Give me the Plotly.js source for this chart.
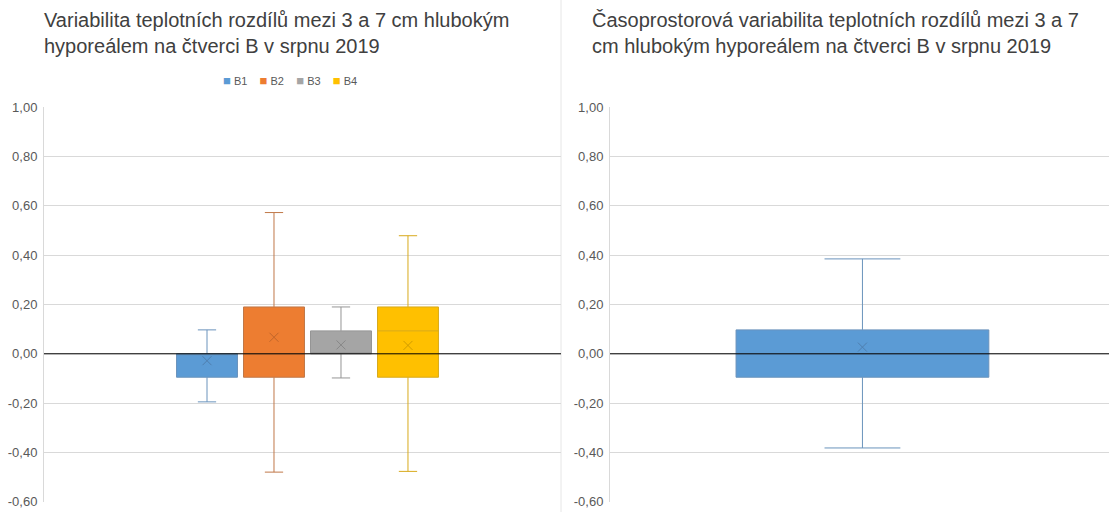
<!DOCTYPE html>
<html>
<head>
<meta charset="utf-8">
<script src="https://cdn.plot.ly/plotly-3.0.1.min.js"></script>
<style>html,body{margin:0;padding:0;background:#fff;}#chart{width:1109px;height:512px;}</style>
</head>
<body>
<div id="chart"></div>
<script>
// ---- data ----
const leftTitle = 'Variabilita teplotních rozdílů mezi 3 a 7 cm hlubokým<br>hyporeálem na čtverci B v srpnu 2019';
const rightTitle = 'Časoprostorová variabilita teplotních rozdílů mezi 3 a 7<br>cm hlubokým hyporeálem na čtverci B v srpnu 2019';
const seriesNames = ['B1', 'B2', 'B3', 'B4'];
const q1Values = [-0.095, -0.095, 0.000, -0.095];
const medianValues = [0.000, 0.000, 0.000, 0.093];
const q3Values = [0.000, 0.190, 0.093, 0.190];
const lowerValues = [-0.195, -0.480, -0.098, -0.477];
const upperValues = [0.097, 0.573, 0.190, 0.479];
const meanValues = [-0.028, 0.067, 0.036, 0.034];

const allName = 'B';
const allQ1 = [-0.095];
const allMedian = [0.000];
const allQ3 = [0.097];
const allLower = [-0.382];
const allUpper = [0.385];
const allMean = [0.027];

const tickValues = [-0.6, -0.4, -0.2, 0, 0.2, 0.4, 0.6, 0.8, 1.0];
const tickLabels = ['-0,60', '-0,40', '-0,20', '0,00', '0,20', '0,40', '0,60', '0,80', '1,00'];

// ---- styles ----
const fillColors = ['#5B9BD5', '#ED7D31', '#A5A5A5', '#FFC000'];
const lineColors = ['#6A93BC', '#C07848', '#959595', '#D8AA1C'];
const meanColors = ['#4F7FAF', '#C0652A', '#888888', '#CF9C00'];
const FONT = 'Liberation Sans, Arial, sans-serif';

const traces = [];
seriesNames.forEach((n, i) => {
  traces.push({
    type: 'box', name: n, x: [i],
    q1: [q1Values[i]], median: [medianValues[i]], q3: [q3Values[i]],
    lowerfence: [lowerValues[i]], upperfence: [upperValues[i]],
    fillcolor: fillColors[i], line: {color: lineColors[i], width: 1},
    width: 0.91, whiskerwidth: 0.3, boxpoints: false, hoverinfo: 'skip',
    xaxis: 'x', yaxis: 'y', showlegend: false
  });
  traces.push({
    type: 'scatter', mode: 'markers', x: [i], y: [meanValues[i]],
    marker: {symbol: 'x-thin-open', size: 9, line: {color: meanColors[i], width: 1}, color: meanColors[i]},
    xaxis: 'x', yaxis: 'y', showlegend: false, hoverinfo: 'skip'
  });
});
traces.push({
  type: 'box', name: allName, x: [0],
  q1: allQ1, median: allMedian, q3: allQ3, lowerfence: allLower, upperfence: allUpper,
  fillcolor: fillColors[0], line: {color: lineColors[0], width: 1},
  width: 1.013, whiskerwidth: 0.3, boxpoints: false, showlegend: false, hoverinfo: 'skip',
  xaxis: 'x2', yaxis: 'y2'
});
traces.push({
  type: 'scatter', mode: 'markers', x: [0], y: allMean,
  marker: {symbol: 'x-thin-open', size: 9, line: {color: meanColors[0], width: 1}, color: meanColors[0]},
  xaxis: 'x2', yaxis: 'y2', showlegend: false, hoverinfo: 'skip'
});

// legend built from the series names and colours
const legendText = seriesNames.map((n, i) =>
  '<span style="color:' + fillColors[i] + ';font-size:13px">■</span> ' + n
).join('&nbsp;&nbsp;&nbsp;&nbsp;');

const W = 1109, H = 512;
const yDomain = [(H - 501.7) / H, (H - 107.3) / H];
const yAxisBase = {
  range: [-0.6, 1.0], tickmode: 'array', tickvals: tickValues, ticktext: tickLabels,
  showgrid: true, gridcolor: '#D9D9D9', gridwidth: 1, zeroline: false,
  showline: true, linecolor: '#D9D9D9', linewidth: 1, ticks: '', ticklabelstandoff: 3,
  tickfont: {family: FONT, size: 13, color: '#595959'},
  domain: yDomain, fixedrange: true
};
const xAxisBase = {
  type: 'linear', showgrid: false, zeroline: false, showline: false,
  showticklabels: false, ticks: '', fixedrange: true
};

const layout = {
  width: W, height: H,
  margin: {l: 0, r: 0, t: 0, b: 0},
  paper_bgcolor: '#ffffff', plot_bgcolor: '#ffffff',
  boxmode: 'overlay',
  showlegend: false,
  xaxis: Object.assign({}, xAxisBase, {domain: [44 / W, 561 / W], range: [-2.433, 5.284], anchor: 'y'}),
  yaxis: Object.assign({}, yAxisBase, {anchor: 'x'}),
  xaxis2: Object.assign({}, xAxisBase, {domain: [610 / W, 1], range: [-1.0116, 0.988], anchor: 'y2'}),
  yaxis2: Object.assign({}, yAxisBase, {anchor: 'x2'}),
  shapes: [
    {type: 'line', xref: 'x domain', yref: 'y', x0: 0, x1: 1, y0: 0, y1: 0, line: {color: '#000000', width: 1}, layer: 'above'},
    {type: 'line', xref: 'x2 domain', yref: 'y2', x0: 0, x1: 1, y0: 0, y1: 0, line: {color: '#000000', width: 1}, layer: 'above'},
    {type: 'line', xref: 'paper', yref: 'paper', x0: 561 / W, x1: 561 / W, y0: 0, y1: 1, line: {color: '#E6E6E6', width: 1}, layer: 'below'}
  ],
  annotations: [
    {text: leftTitle, xref: 'paper', yref: 'paper', x: 42 / W, y: 1 - 7 / H, xanchor: 'left', yanchor: 'top', align: 'left', showarrow: false,
     font: {family: FONT, size: 20, color: '#404040'}},
    {text: rightTitle, xref: 'paper', yref: 'paper', x: 590 / W, y: 1 - 7 / H, xanchor: 'left', yanchor: 'top', align: 'left', showarrow: false,
     font: {family: FONT, size: 20, color: '#404040'}},
    {text: legendText, xref: 'paper', yref: 'paper', x: 290 / W, y: (H - 80) / H, xanchor: 'center', yanchor: 'middle', showarrow: false,
     font: {family: FONT, size: 11, color: '#595959'}}
  ]
};

Plotly.newPlot('chart', traces, layout, {staticPlot: true, displayModeBar: false});
</script>
</body>
</html>
